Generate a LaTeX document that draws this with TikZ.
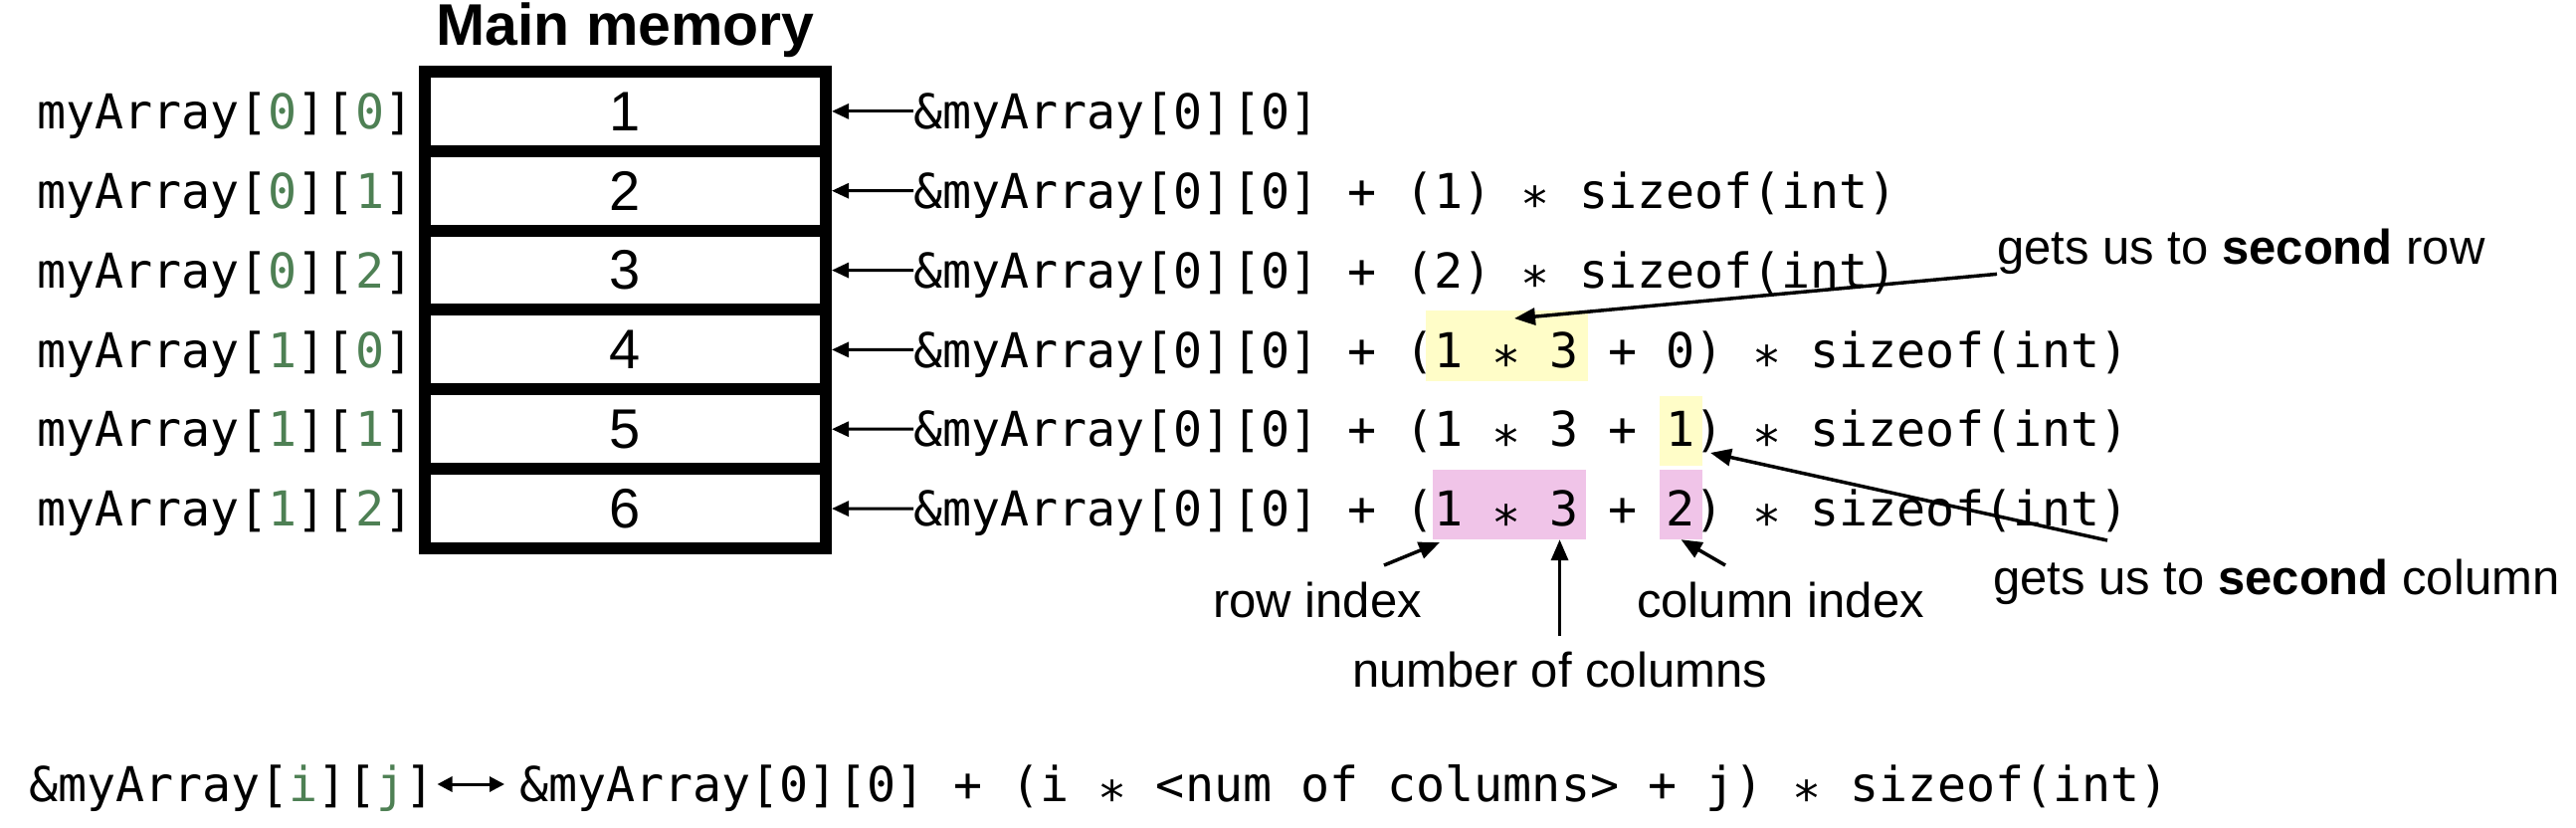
\documentclass[tikz,border=0pt]{standalone}
\usepackage{fontspec}
\setmainfont{Liberation Sans}
\newfontfamily\monof{DejaVu Sans Mono}
\usetikzlibrary{arrows.meta}
\definecolor{idxgreen}{RGB}{78,128,84}
\definecolor{hlyellow}{RGB}{255,253,200}
\definecolor{hlpink}{RGB}{240,196,232}
\newcommand{\gi}[1]{\textcolor{idxgreen}{#1}}
\newcommand{\stx}{\raisebox{-0.28em}{*}}
\tikzset{
  mono/.style={font=\monof\fontsize{48.3}{58}\selectfont, inner sep=0pt, text height=35.2pt, text depth=0pt},
  cell/.style={draw, line width=12pt, minimum width=403pt, minimum height=79.83pt, inner sep=0pt, font=\fontsize{56}{60}\selectfont},
  note/.style={font=\fontsize{49}{56}\selectfont, inner sep=0pt},
  hl/.style={inner sep=0pt, draw=none},
  addrarrow/.style={line width=3pt, -{Triangle[length=17pt,width=15pt]}},
  ann/.style={line width=3.5pt, -{Triangle[length=21pt,width=17pt]}},
}
\begin{document}
\begin{tikzpicture}[x=1pt,y=-1pt]
\useasboundingbox (0,0) rectangle (2589,831);

% highlights
\node[hl, fill=hlyellow, minimum width=163pt, minimum height=71pt] (h4) at (1514.5,347.5) {};
\node[hl, fill=hlyellow, minimum width=43pt, minimum height=70pt] (h5) at (1689.5,433) {};
\node[hl, fill=hlpink, minimum width=154pt, minimum height=70pt] (h6a) at (1517,507) {};
\node[hl, fill=hlpink, minimum width=43pt, minimum height=70pt] (h6b) at (1689.5,507) {};

% title
\node[font=\bfseries\fontsize{59}{62}\selectfont, inner sep=0pt, anchor=base] (title) at (628.5,45) {Main memory};

% memory cells
\foreach \i in {1,...,6} {
  \node[cell] (m\i) at (628.5,{111.9+(\i-1)*79.83}) {\i};
}

% left labels
\node[mono, anchor=west] (l1) at (37,111.9) {myArray[\gi{0}][\gi{0}]};
\node[mono, anchor=west] (l2) at (37,191.7) {myArray[\gi{0}][\gi{1}]};
\node[mono, anchor=west] (l3) at (37,271.6) {myArray[\gi{0}][\gi{2}]};
\node[mono, anchor=west] (l4) at (37,351.4) {myArray[\gi{1}][\gi{0}]};
\node[mono, anchor=west] (l5) at (37,431.2) {myArray[\gi{1}][\gi{1}]};
\node[mono, anchor=west] (l6) at (37,511.1) {myArray[\gi{1}][\gi{2}]};

% address expressions
\node[mono, anchor=west] (e1) at (918,111.9) {\&myArray[0][0]};
\node[mono, anchor=west] (e2) at (918,191.7) {\&myArray[0][0] + (1) \stx{} sizeof(int)};
\node[mono, anchor=west] (e3) at (918,271.6) {\&myArray[0][0] + (2) \stx{} sizeof(int)};
\node[mono, anchor=west] (e4) at (918,351.4) {\&myArray[0][0] + (1 \stx{} 3 + 0) \stx{} sizeof(int)};
\node[mono, anchor=west] (e5) at (918,431.2) {\&myArray[0][0] + (1 \stx{} 3 + 1) \stx{} sizeof(int)};
\node[mono, anchor=west] (e6) at (918,511.1) {\&myArray[0][0] + (1 \stx{} 3 + 2) \stx{} sizeof(int)};

\foreach \i in {1,...,6} {
  \draw[addrarrow] (e\i.west) -- (m\i.east);
}

% annotations
\node[note, anchor=base west] (n1) at (2007,265) {gets us to \textbf{second} row};
\node[note, anchor=base west] (n2) at (2003,597) {gets us to \textbf{second} column};
\node[note, anchor=base west] (n3) at (1219,620) {row index};
\node[note, anchor=base west] (n4) at (1359,690) {number of columns};
\node[note, anchor=base west] (n5) at (1645,620) {column index};

\coordinate (t1) at (1522,320);
\draw[ann] (n1.south west) -- (t1);
\coordinate (s2) at (2118,543);
\coordinate (t2) at (1719,455);
\draw[ann] (s2) -- (t2);
\coordinate (s3) at (1391,568);
\coordinate (t3) at (1447,545);
\draw[ann] (s3) -- (t3);
\draw[ann, shorten <=15pt] (n4.north) -- (n4.north |- h6a.south);
\coordinate (s5) at (1734,568);
\draw[ann] (s5) -- (h6b.south);

% general formula
\node[mono, anchor=west] (b1) at (29,788) {\&myArray[\gi{i}][\gi{j}]};
\node[mono, anchor=west] (b2) at (522,788) {\&myArray[0][0] + (i \stx{} <num of columns> + j) \stx{} sizeof(int)};
\draw[line width=3pt, {Triangle[length=15pt,width=15pt]}-{Triangle[length=15pt,width=15pt]}, shorten <=3pt, shorten >=15pt] (b1.east) -- (b2.west);
\end{tikzpicture}
\end{document}
